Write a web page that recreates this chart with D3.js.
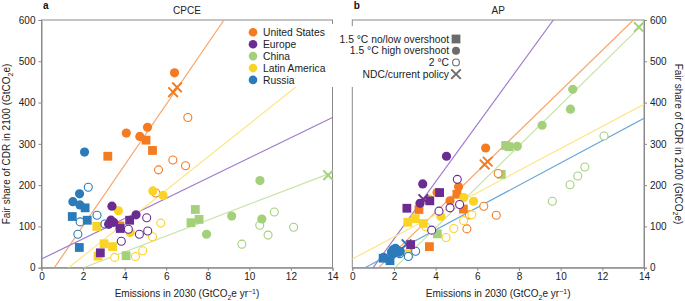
<!DOCTYPE html>
<html><head><meta charset="utf-8">
<script src="https://cdn.jsdelivr.net/npm/d3@7"></script>
<style>body{margin:0;background:#fff}svg{display:block;font-family:"Liberation Sans",Arial,sans-serif}</style>
</head><body><svg id="c" width="685" height="301"></svg>
<script>
// ---------- DATA ----------
const series = ["United States","Europe","China","Latin America","Russia"];
const colors = ["#f47b20","#6a2c91","#a4d07c","#fbd327","#2b7bba"];
const lineColors = ["#f6a66c","#a07cc9","#c9e3a9","#fde582","#6aa6d8"];
const markerTypes = ["1.5 °C no/low overshoot","1.5 °C high overshoot","2 °C","NDC/current policy"];
const xTicks = [0,2,4,6,8,10,12,14];
const yTicks = [0,100,200,300,400,500,600];
// points: [x, y, type]  s=square, c=filled circle, o=open circle, x=cross
const cpceUS = [[6.4,472,"c"],[4.08,326,"c"],[4.73,318,"c"],[5.1,340,"c"],
  [5.03,309,"s"],[5.34,284,"s"],[3.19,270,"s"],[3.76,101,"s"],
  [7.04,364,"o"],[6.32,261,"o"],[6.93,247,"o"],[5.63,237,"o"],[5.5,181,"o"],
  [6.33,425,"x"],[6.52,437,"x"]];
const cpceEurope = [[3.39,149,"c"],[3.34,115,"c"],[3.23,105,"c"],[3.47,110,"c"],[4.55,128,"c"],
  [3.79,95,"s"],[4.24,115,"s"],[2.83,36,"s"],
  [5.06,121,"o"],[5.11,89,"o"],[4.71,81,"o"],[4.18,93,"o"],[3.84,64,"o"]];
const cpceChina = [[10.51,211,"c"],[9.15,125,"c"],[10.6,118,"c"],[7.94,81,"c"],
  [7.4,141,"s"],[7.58,117,"s"],[7.19,109,"s"],[4.07,29,"s"],
  [11.2,135,"o"],[10.5,103,"o"],[10.9,79,"o"],[12.13,98,"o"],[9.64,57,"o"],
  [13.79,224,"x"]];
const cpceLatAm = [[5.36,186,"c"],[5.85,175,"c"],[3.7,138,"c"],[4.27,85,"c"],
  [2.66,100,"s"],[3.01,58,"s"],[3.42,51,"s"],[2.72,28,"s"],
  [5.74,108,"o"],[5.34,75,"o"],[4.87,41,"o"],[4.52,27,"o"],[3.52,25,"o"]];
const cpceRussia = [[2.07,280,"c"],[1.83,179,"c"],[1.51,160,"c"],[1.85,152,"c"],
  [2.1,145,"s"],[1.48,124,"s"],[2.2,115,"s"],[1.82,49,"s"],
  [2.25,195,"o"],[2.67,127,"o"],[1.86,111,"o"],[3.05,106,"o"],[1.75,81,"o"]];
const apUS = [[6.4,290,"c"],[5.1,196,"c"],[4.69,162,"c"],[4.07,182,"c"],
  [5.02,178,"s"],[3.2,141,"s"],[5.33,142,"s"],[3.7,51,"s"],
  [6.31,149,"o"],[6.91,127,"o"],[7.0,228,"o"],[5.5,94,"o"],[5.62,128,"o"],
  [6.35,250,"x"],[6.5,257,"x"]];
const apEurope = [[4.52,270,"c"],[3.38,203,"c"],[3.25,156,"c"],
  [2.62,144,"s"],[3.72,162,"s"],[4.19,182,"s"],[2.8,56,"s"],
  [5.04,214,"o"],[4.69,145,"o"],[4.16,137,"o"],[3.81,91,"o"],[5.15,153,"o"],
  [3.41,166,"x"]];
const apChina = [[10.58,432,"c"],[10.47,384,"c"],[9.11,345,"c"],[7.92,294,"c"],
  [7.36,296,"s"],[7.52,293,"s"],[7.15,226,"s"],[4.08,82,"s"],
  [12.08,319,"o"],[11.16,244,"o"],[10.82,222,"o"],[10.45,201,"o"],[9.6,161,"o"],
  [13.75,583,"x"]];
const apLatAm = [[3.7,166,"c"],[4.25,124,"c"],[5.35,170,"c"],[5.82,161,"c"],
  [2.66,110,"s"],[3.02,119,"s"],[3.41,107,"s"],[2.72,34,"s"],
  [3.53,99,"o"],[4.87,95,"o"],[4.5,73,"o"],[5.34,114,"o"],[5.74,128,"o"]];
const apRussia = [[1.5,25,"c"],[1.88,38,"c"],[1.97,44,"c"],[2.07,47,"c"],[2.17,42,"c"],[2.3,39,"c"],[1.92,32,"c"],
  [1.48,23,"s"],[1.81,17,"s"],[2.12,37,"s"],
  [2.69,27,"o"],[3.04,40,"o"],[2.28,34,"o"],
  [2.6,57,"x"]];
// regression lines: [seriesIndex, x0, y0, x1, y1]
const cpceLines = [[0,0.62,0,8.78,600],[1,0,21,14,364],[2,2.02,0,14,231],[3,1.3,0,14,508]];
const apLines = [[1,1.0,0,9.65,600],[0,1.26,0,13.49,600],[2,2.05,0,14,593],[3,0,21,14,396],[4,0.61,0,14,362]];

// ---------- DRAW ----------
const svg = d3.select("#c");
const y = d3.scaleLinear().domain([0,600]).range([267.7,20]);
const panels = [
  {x: d3.scaleLinear().domain([0,14]).range([41.5,332.5]), title:"CPCE", tag:"a", side:"left",
   data:[cpceUS,cpceEurope,cpceChina,cpceLatAm,cpceRussia], lines:cpceLines},
  {x: d3.scaleLinear().domain([0,14]).range([352.3,644]), title:"AP", tag:"b", side:"right",
   data:[apUS,apEurope,apChina,apLatAm,apRussia], lines:apLines}
];
const axisCol = "#8a8a8a", textCol = "#222";
const drawOrder = [2,0,3,4,1];

function marker(g, type, cx, cy, col, r){
  if(type==="c") g.append("circle").attr("cx",cx).attr("cy",cy).attr("r",r||4.6).attr("fill",col);
  else if(type==="o") g.append("circle").attr("cx",cx).attr("cy",cy).attr("r",(r||4.6)-0.6).attr("fill","#fff").attr("stroke",col).attr("stroke-width",1.1);
  else if(type==="s") g.append("rect").attr("x",cx-4.4).attr("y",cy-4.4).attr("width",8.8).attr("height",8.8).attr("fill",col);
  else { const d=4.8; g.append("path").attr("d",`M${cx-d},${cy-d}L${cx+d},${cy+d}M${cx-d},${cy+d}L${cx+d},${cy-d}`)
           .attr("stroke",col).attr("stroke-width",1.9).attr("fill","none"); }
}

panels.forEach((p,pi)=>{
  const x = p.x, g = svg.append("g");
  const [x0,x1] = x.range();
  g.append("clipPath").attr("id","clip"+pi).append("rect").attr("x",x0).attr("y",20).attr("width",x1-x0).attr("height",247.7);
  // frame
  g.append("rect").attr("x",x0).attr("y",20).attr("width",x1-x0).attr("height",247.7).attr("fill","none").attr("stroke",axisCol).attr("stroke-width",1);
  // x axis
  const xa = g.append("g").attr("transform","translate(0,267.7)").call(d3.axisBottom(x).tickValues(xTicks).tickSize(3).tickPadding(2));
  // y axis
  const ya = p.side==="left"
    ? g.append("g").attr("transform",`translate(${x0},0)`).call(d3.axisLeft(y).tickValues(yTicks).tickSize(3).tickPadding(3))
    : g.append("g").attr("transform",`translate(${x1},0)`).call(d3.axisRight(y).tickValues(yTicks).tickSize(3).tickPadding(3));
  [xa,ya].forEach(a=>{a.select(".domain").attr("stroke",axisCol);a.selectAll("line").attr("stroke",axisCol);
    a.selectAll("text").attr("fill",textCol).style("font-size","10px").style("font-family","'Liberation Sans',Arial,sans-serif");});
  // lines
  const lg = g.append("g").attr("clip-path",`url(#clip${pi})`);
  p.lines.forEach(l=>{
    lg.append("line").attr("x1",x(l[1])).attr("y1",y(l[2])).attr("x2",x(l[3])).attr("y2",y(l[4]))
      .attr("stroke",lineColors[l[0]]).attr("stroke-width",1.2);
  });
  // points
  const pg = g.append("g");
  drawOrder.forEach(si=>{
    const arr = p.data[si];
    ["o","s","c","x"].forEach(t=>arr.filter(d=>d[2]===t).forEach(d=>marker(pg,d[2],x(d[0]),y(d[1]),colors[si])));
  });
  // titles
  g.append("text").attr("x",x0+1.5).attr("y",9).text(p.tag).style("font-weight","bold").style("font-size","10px").attr("fill","#111");
  g.append("text").attr("x",(x0+x1)/2).attr("y",13.5).attr("text-anchor","middle").text(p.title).style("font-size","10px").attr("fill",textCol);
  const xl = g.append("text").attr("x",(x0+x1)/2).attr("y",297).attr("text-anchor","middle").style("font-size","10px").attr("fill",textCol);
  xl.append("tspan").text("Emissions in 2030 (GtCO");
  xl.append("tspan").text("2").attr("dy",2.5).style("font-size","7px");
  xl.append("tspan").text("e yr").attr("dy",-2.5);
  xl.append("tspan").text("−1").attr("dy",-3.5).style("font-size","7px");
  xl.append("tspan").text(")").attr("dy",3.5);
});

// y labels
function ylab(xp, rot){
  const t = svg.append("text").attr("transform",`translate(${xp},144) rotate(${rot})`).attr("text-anchor","middle").style("font-size","10px").attr("fill",textCol);
  t.append("tspan").text("Fair share of CDR in 2100 (GtCO");
  t.append("tspan").text("2").attr("dy",2.5).style("font-size","7px");
  t.append("tspan").text("e)").attr("dy",-2.5);
}
ylab(10,-90);
ylab(675,90);

// legend a
svg.append("rect").attr("x",246).attr("y",24).attr("width",92).attr("height",63).attr("fill","#fff");
series.forEach((s,i)=>{
  const yy = 32.3 + i*11.9;
  marker(svg,"c",253,yy,colors[i],4.3);
  svg.append("text").attr("x",263).attr("y",yy+3.6).text(s).style("font-size","10.3px").attr("fill",textCol);
});
// legend b
svg.append("rect").attr("x",340).attr("y",26).attr("width",122).attr("height",61).attr("fill","#fff");
markerTypes.forEach((s,i)=>{
  const yy = 39 + i*11.7;
  svg.append("text").attr("x",449).attr("y",yy+3.6).attr("text-anchor","end").text(s).style("font-size","10.3px").attr("fill",textCol);
  marker(svg, ["s","c","o","x"][i], 456, yy, "#6b6b6b", 4);
});
</script></body></html>
